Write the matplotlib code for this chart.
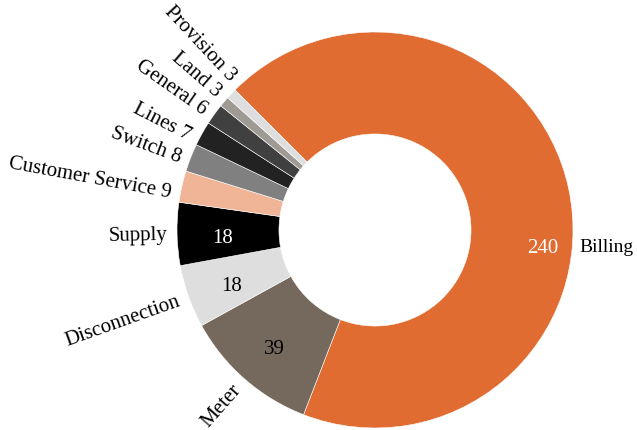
import numpy as np
import matplotlib
matplotlib.use("Agg")
import matplotlib.pyplot as plt

categories = ["Billing", "Meter", "Disconnection", "Supply", "Customer Service",
              "Switch", "Lines", "General", "Land", "Provision"]
counts = [240, 39, 18, 18, 9, 8, 7, 6, 3, 3]
colors = ["#E06C31", "#75695E", "#DEDEDE", "#000000", "#F0B496",
          "#808080", "#222222", "#404040", "#A09A94", "#DEDEDE"]
inner_text = ["white", "black", "black", "white"]

# small nudges (degrees) so the thin-slice labels don't collide
label_shift = {"Billing": -16.5, "Customer Service": 2.3, "Switch": 1.0,
               "Lines": 2.0, "General": 0.8, "Land": -0.6, "Provision": -3.5}

plt.rcParams['font.family'] = ['Liberation Serif', 'DejaVu Serif']
fs = 15

fig = plt.figure(figsize=(6.37, 4.31), dpi=100)
ax = fig.add_axes([0, 0, 1, 1])

wedges, _ = ax.pie(counts, colors=colors, startangle=135, counterclock=False,
                   radius=1.0, wedgeprops=dict(width=0.515, edgecolor="white", linewidth=0.4))

for i, w in enumerate(wedges):
    mid = (w.theta1 + w.theta2) / 2.0 + label_shift.get(categories[i], 0.0)
    a = np.deg2rad(mid)
    if counts[i] >= 18:
        # value inside the ring, name outside
        r_in = 0.85 if categories[i] == "Billing" else 0.77
        ax.text(r_in * np.cos(a), r_in * np.sin(a) - 0.02, str(counts[i]), ha="center", va="center",
                color=inner_text[i], fontsize=fs)
        lab = categories[i]
    else:
        lab = "%s %d" % (categories[i], counts[i])
    if np.cos(a) >= 0:
        # right-hand label sits flat, tight to the ring
        ax.text(1.035 * np.cos(a), 1.035 * np.sin(a), lab, ha="left", va="center", fontsize=14)
    else:
        x, y = 1.05 * np.cos(a), 1.05 * np.sin(a)
        rot = (mid % 360) - 180
        ax.text(x, y, lab, ha="right", va="center", rotation=rot, rotation_mode="anchor",
                fontsize=fs)

ax.set_aspect("auto")
ax.set_xlim(-375 / 198.0, (637 - 375) / 198.0)
ax.set_ylim(-200 / 198.0, 231 / 198.0)
ax.axis("off")

fig.savefig("out.png", dpi=100)
